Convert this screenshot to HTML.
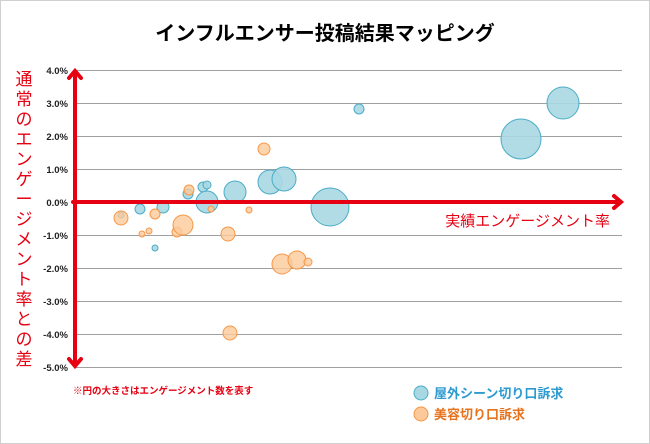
<!DOCTYPE html>
<html><head><meta charset="utf-8"><style>
body{margin:0;background:#fff;}
svg{display:block;font-family:"Liberation Sans","Noto Sans CJK JP",sans-serif;}
</style></head><body>
<svg width="650" height="444" viewBox="0 0 650 444">
<rect x="0.5" y="0.5" width="649" height="443" fill="#fff" stroke="#d0d0d0"/>
<text x="325" y="40" text-anchor="middle" font-size="20" font-weight="bold" fill="#000">インフルエンサー投稿結果マッピング</text>
<g stroke="#a0a0a0" stroke-width="1">
<line x1="75" x2="622" y1="70.5" y2="70.5"/><line x1="75" x2="622" y1="103.5" y2="103.5"/>
<line x1="75" x2="622" y1="136.5" y2="136.5"/><line x1="75" x2="622" y1="169.5" y2="169.5"/>
<line x1="75" x2="622" y1="235.5" y2="235.5"/><line x1="75" x2="622" y1="268.5" y2="268.5"/>
<line x1="75" x2="622" y1="301.5" y2="301.5"/><line x1="75" x2="622" y1="334.5" y2="334.5"/>
<line x1="75" x2="622" y1="367.5" y2="367.5"/>
</g>
<g font-size="9.5" font-weight="bold" fill="#222" text-anchor="end">
<text x="68" y="74">4.0%</text><text x="68" y="107">3.0%</text><text x="68" y="140">2.0%</text>
<text x="68" y="173">1.0%</text><text x="68" y="206">0.0%</text><text x="68" y="239">-1.0%</text>
<text x="68" y="272">-2.0%</text><text x="68" y="305">-3.0%</text><text x="68" y="338">-4.0%</text>
<text x="68" y="371">-5.0%</text>
</g>
<g fill="#a8d8e3" stroke="#4bacc6" stroke-width="1" fill-opacity="0.9">
<circle cx="140" cy="209" r="5"/><circle cx="163" cy="207" r="6"/><circle cx="188" cy="194" r="5"/>
<circle cx="203" cy="187" r="5"/><circle cx="207" cy="185" r="4"/><circle cx="207" cy="202" r="11"/>
<circle cx="235" cy="192" r="11"/><circle cx="270" cy="182" r="12"/><circle cx="284" cy="179" r="12"/>
<circle cx="330" cy="207" r="19"/><circle cx="155" cy="248" r="3"/><circle cx="121" cy="215" r="3"/>
<circle cx="359" cy="109" r="5"/><circle cx="521" cy="139" r="20"/><circle cx="563" cy="103" r="16"/>
</g>
<g fill="#fbc99a" stroke="#f79646" stroke-width="1" fill-opacity="0.8">
<circle cx="121" cy="218" r="7"/><circle cx="155" cy="214" r="5"/><circle cx="142" cy="234" r="3"/>
<circle cx="149" cy="231" r="3"/><circle cx="177" cy="232" r="5"/><circle cx="183" cy="225" r="10"/>
<circle cx="189" cy="190" r="5"/><circle cx="211" cy="209" r="3"/><circle cx="228" cy="234" r="7"/>
<circle cx="249" cy="210" r="3"/><circle cx="264" cy="149" r="6"/><circle cx="282" cy="264" r="10"/>
<circle cx="297" cy="260" r="9"/><circle cx="308" cy="262" r="4"/><circle cx="230" cy="333" r="7"/>
</g>
<g stroke="#e60012" stroke-width="4" fill="none" stroke-linecap="round">
<line x1="75" y1="72" x2="75" y2="365"/>
<polyline points="69,78 75,71 81,78"/><polyline points="69,359 75,366 81,359"/>
<line x1="73" y1="202" x2="620" y2="202"/>
<polyline points="614,196 621,202 614,208"/>
</g>
<text x="610" y="226" text-anchor="end" font-size="15" fill="#e60012">実績エンゲージメント率</text>
<g font-size="17" fill="#e60012" text-anchor="middle">
<text x="24" y="85">通</text><text x="24" y="105">常</text><text x="24" y="125">の</text><text x="24" y="145">エ</text>
<text x="24" y="165">ン</text><text x="24" y="185">ゲ</text><text x="24" y="205">ー</text><text x="24" y="225">ジ</text>
<text x="24" y="245">メ</text><text x="24" y="265">ン</text><text x="24" y="285">ト</text><text x="24" y="305">率</text>
<text x="24" y="325">と</text><text x="24" y="345">の</text><text x="24" y="365">差</text>
</g>
<text x="73" y="394" font-size="9.5" font-weight="bold" fill="#e60012">※円の大きさはエンゲージメント数を表す</text>
<circle cx="421" cy="393" r="7" fill="#a8d8e3" stroke="#4bacc6"/>
<circle cx="421" cy="414" r="7" fill="#fbc99a" stroke="#f79646"/>
<text x="434" y="398" font-size="13" font-weight="bold" fill="#2e9bd0">屋外シーン切り口訴求</text>
<text x="434" y="419" font-size="13" font-weight="bold" fill="#e8731e">美容切り口訴求</text>
</svg>
</body></html>
